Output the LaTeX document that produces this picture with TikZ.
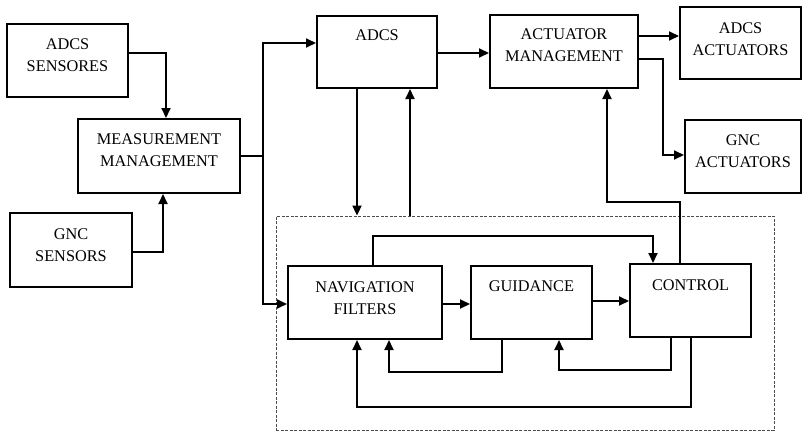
\documentclass[tikz,border=0pt]{standalone}
\usepackage{fontspec}
\setmainfont{Liberation Serif}
\usetikzlibrary{arrows.meta}
\begin{document}
\begin{tikzpicture}[x=1pt,y=-1pt,
  box/.style={draw, line width=2pt, rectangle, inner sep=0pt},
  txt/.style={align=center, font=\fontsize{16.3}{22}\selectfont, inner sep=0pt},
  wire/.style={line width=1.9pt},
  arr/.style={line width=1.9pt, -{Triangle[length=10pt,width=9pt]}},
  dbox/.style={draw=black!70, line width=0.9pt, dash pattern=on 3pt off 1.5pt, inner sep=0pt}]
\useasboundingbox (0,0) rectangle (803,431);
% boxes
\node[box, minimum width=121, minimum height=73] (adcssens) at (67.5,60.5) {};
\node[txt] (t1) at (67.5,55.5) {ADCS\\SENSORES};
\node[box, minimum width=162, minimum height=74] (mm) at (159,156) {};
\node[txt] (t2) at (159,150.5) {MEASUREMENT\\MANAGEMENT};
\node[box, minimum width=122, minimum height=74] (gncsens) at (71,250) {};
\node[txt] (t3) at (71,245) {GNC\\SENSORS};
\node[box, minimum width=120, minimum height=72] (adcs) at (377,52) {};
\node[txt] (t4) at (377,35) {ADCS};
\node[box, minimum width=148, minimum height=73] (actm) at (564,51.5) {};
\node[txt] (t5) at (564,45) {ACTUATOR\\MANAGEMENT};
\node[box, minimum width=121, minimum height=72] (adcsact) at (740.5,43) {};
\node[txt] (t6) at (740.5,39) {ADCS\\ACTUATORS};
\node[box, minimum width=116, minimum height=73] (gncact) at (743,156.5) {};
\node[txt] (t7) at (743,151) {GNC\\ACTUATORS};
\node[dbox, minimum width=498, minimum height=214] (gnc) at (525,323) {};
\node[box, minimum width=154, minimum height=73] (nav) at (365,302.5) {};
\node[txt] (t8) at (365,298) {NAVIGATION\\FILTERS};
\node[box, minimum width=121, minimum height=73] (guid) at (531.5,302.5) {};
\node[txt] (t9) at (531.5,286) {GUIDANCE};
\node[box, minimum width=121, minimum height=73] (ctrl) at (690.5,300.5) {};
\node[txt] (t10) at (690.5,285) {CONTROL};
% connectors
\draw[arr] (adcssens.east |- 0,53) -| (166,0 |- mm.north);
\draw[arr] (gncsens.east |- 0,252) -| (163,0 |- mm.south);
\coordinate (bus) at (263,156);
\draw[wire] (mm.east) -- (bus);
\draw[arr] (bus) |- (adcs.west |- 0,43);
\draw[arr] (bus) |- (nav.west |- 0,304);
\draw[arr] (adcs.east |- 0,53) -- (actm.west |- 0,53);
\draw[arr] (actm.east |- 0,36) -- (adcsact.west |- 0,36);
\draw[arr] (actm.east |- 0,59) -| (663,155) -- (gncact.west |- 0,155);
\draw[arr] (357,0 |- adcs.south) -- (357,0 |- gnc.north);
\draw[arr] (410,0 |- gnc.north) -- (410,0 |- adcs.south);
\draw[arr] (nav.east |- 0,304) -- (guid.west |- 0,304);
\draw[arr] (guid.east |- 0,301) -- (ctrl.west |- 0,301);
\draw[arr] (373,0 |- nav.north) |- (653,236) -- (653,0 |- ctrl.north);
\draw[arr] (680,0 |- ctrl.north) |- (607,202) -- (607,0 |- actm.south);
\draw[arr] (502,0 |- guid.south) |- (389,372) -- (389,0 |- nav.south);
\draw[arr] (671,0 |- ctrl.south) |- (559,370) -- (559,0 |- guid.south);
\draw[arr] (691,0 |- ctrl.south) |- (357,407) -- (357,0 |- nav.south);
\end{tikzpicture}
\end{document}
